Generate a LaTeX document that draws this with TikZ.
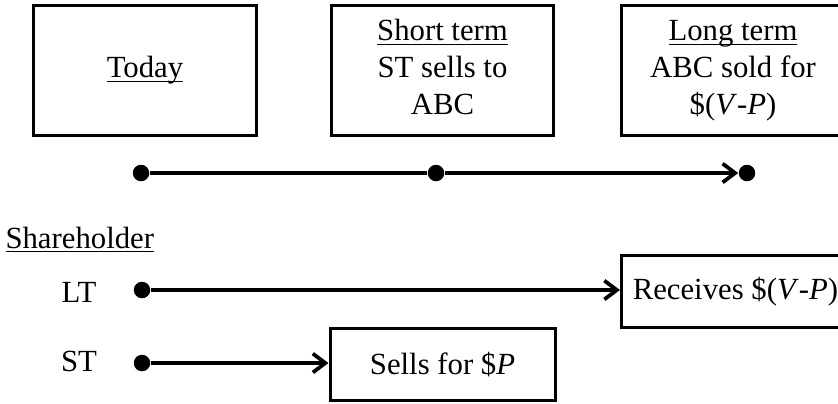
\documentclass[tikz,border=0pt]{standalone}
\usepackage{fontspec}
\setmainfont{Liberation Serif}
\usetikzlibrary{arrows.meta}
\newcommand{\undl}[1]{\underline{\smash{#1}}}
\newcommand{\lines}[1]{\begin{tabular}{@{}c@{}}#1\end{tabular}}

\begin{document}
\begin{tikzpicture}[x=0.4pt,y=-0.4pt,
	box/.style={draw, line width=1.2pt, align=center, font=\fontsize{12.3}{14.8}\selectfont},
	tbox/.style={box, minimum width=89pt, minimum height=52pt},
	sbox/.style={box, minimum height=29pt, inner xsep=6pt},
	dot/.style={circle, fill, inner sep=0pt, minimum size=6.6pt},
	lbl/.style={inner sep=0pt, font=\fontsize{12.3}{14.8}\selectfont},
	link/.style={line width=1.5pt, -{Straight Barb[length=5pt,width=7.5pt]}}]
						
						\useasboundingbox (0,0) rectangle (838,403);
						
						\node[tbox] (today) at (145,70.5) {\lines{\undl{Today}}};
						\node[tbox] (short) at (442.5,70.5) {\lines{\undl{Short term}\\ST sells to\\ABC}};
						\node[tbox] (long) at (733,70.5) {\lines{\undl{Long term}\\ABC sold for\\\$(\textit{V}-\textit{P})}};
						
						\node[dot] (t0) at (141,173) {};
						\node[dot] (t1) at (436,173) {};
						\node[dot] (t2) at (747,173) {};
						\draw[line width=1.5pt] (t0) -- (t1);
						\draw[link] (t1) -- (t2);
						
						\node[lbl, anchor=base west] (holder) at (5,248) {\undl{Shareholder}};
						\node[lbl, anchor=base] (lt) at (79,302) {LT};
						\node[lbl, anchor=base] (st) at (79,371) {ST};
						\node[dot] (ltdot) at (142,290) {};
						\node[dot] (stdot) at (142,363) {};
						\node[sbox, anchor=west, inner xsep=4.5pt] (recv) at (620,291.5) {Receives \$(\textit{V}-\textit{P})};
						\node[sbox, minimum width=90pt] (sell) at (442.5,364.5) {Sells for \$\textit{P}};
						\draw[link] (ltdot) -- (ltdot -| recv.west);
						\draw[link] (stdot) -- (stdot -| sell.west);
						
\end{tikzpicture}
\end{document}
